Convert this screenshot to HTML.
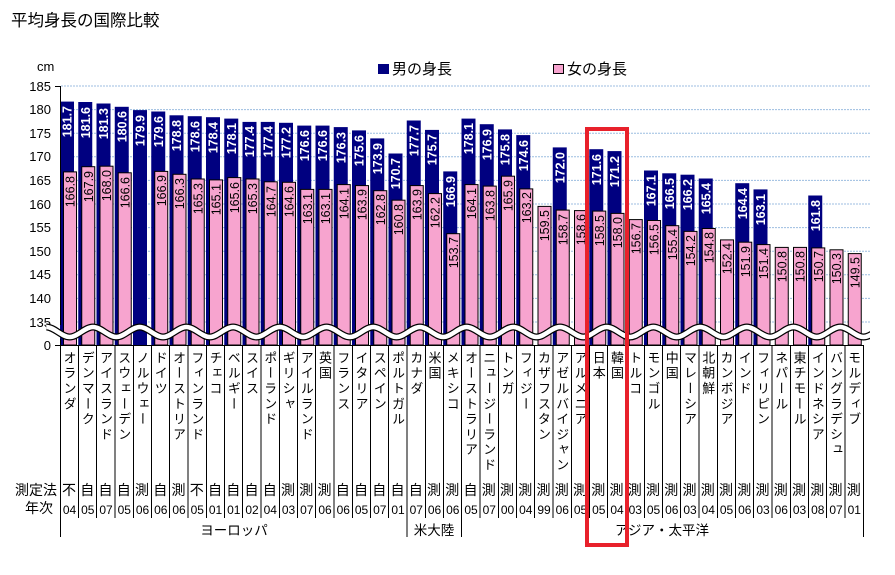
<!DOCTYPE html>
<html><head><meta charset="utf-8"><style>
html,body{margin:0;padding:0;background:#fff;}
svg{display:block;font-family:"Liberation Sans","Noto Sans CJK JP",sans-serif;}
.jp{font-family:"Liberation Sans","Noto Sans CJK JP",sans-serif;}
.v{writing-mode:vertical-rl;font-size:13px;letter-spacing:2.3px;}
.m{fill:#000080}
.f{fill:#f7a4cf;stroke:#000;stroke-width:1}
.ml{fill:#fff;font-size:12.5px;font-weight:bold;text-anchor:end}
.fl{fill:#000;font-size:12.5px;text-anchor:end}
.g{stroke:#9cbde0;stroke-width:1;stroke-dasharray:2,1}
.tk{font-size:13px;text-anchor:end}
.mt{font-size:14px;text-anchor:middle}
.yr{font-size:12px;text-anchor:middle}
</style></head><body>
<svg width="895" height="575" viewBox="0 0 895 575" xmlns="http://www.w3.org/2000/svg">
<text x="11" y="26" font-size="16.5" class="jp">平均身長の国際比較</text>
<text x="37" y="71" font-size="13">cm</text>
<rect x="378" y="64" width="11" height="10" fill="#000080"/>
<text x="392" y="74" font-size="15" class="jp">男の身長</text>
<rect x="553.5" y="64.5" width="10" height="9" fill="#f7a4cf" stroke="#000"/>
<text x="567" y="74" font-size="15" class="jp">女の身長</text>
<g>
<line class="g" x1="61" y1="86" x2="870" y2="86"/>
<line class="g" x1="61" y1="109.6" x2="870" y2="109.6"/>
<line class="g" x1="61" y1="133.2" x2="870" y2="133.2"/>
<line class="g" x1="61" y1="156.8" x2="870" y2="156.8"/>
<line class="g" x1="61" y1="180.4" x2="870" y2="180.4"/>
<line class="g" x1="61" y1="204" x2="870" y2="204"/>
<line class="g" x1="61" y1="227.6" x2="870" y2="227.6"/>
<line class="g" x1="61" y1="251.2" x2="870" y2="251.2"/>
<line class="g" x1="61" y1="274.8" x2="870" y2="274.8"/>
<line class="g" x1="61" y1="298.4" x2="870" y2="298.4"/>
<line class="g" x1="61" y1="322" x2="870" y2="322"/>
</g>
<g>
<text class="tk" x="51" y="91">185</text>
<text class="tk" x="51" y="114">180</text>
<text class="tk" x="51" y="138">175</text>
<text class="tk" x="51" y="161">170</text>
<text class="tk" x="51" y="185">165</text>
<text class="tk" x="51" y="209">160</text>
<text class="tk" x="51" y="232">155</text>
<text class="tk" x="51" y="256">150</text>
<text class="tk" x="51" y="279">145</text>
<text class="tk" x="51" y="303">140</text>
<text class="tk" x="51" y="327">135</text>
<text class="tk" x="51" y="350">0</text>
</g>
<!-- bars -->
<g>
<rect class="m" x="60" y="101.6" width="14" height="243.4"/><rect class="f" x="63.5" y="171.9" width="13" height="173.1"/>
<rect class="m" x="78.25" y="102" width="14" height="243"/><rect class="f" x="81.75" y="166.7" width="13" height="178.3"/>
<rect class="m" x="96.5" y="103.5" width="14" height="241.5"/><rect class="f" x="100" y="166.2" width="13" height="178.8"/>
<rect class="m" x="114.75" y="106.8" width="14" height="238.2"/><rect class="f" x="118.25" y="172.8" width="13" height="172.2"/>
<rect class="m" x="133" y="110.1" width="14" height="234.9"/>
<rect class="m" x="151.25" y="111.5" width="14" height="233.5"/><rect class="f" x="154.75" y="171.4" width="13" height="173.6"/>
<rect class="m" x="169.5" y="115.3" width="14" height="229.7"/><rect class="f" x="173" y="174.3" width="13" height="170.7"/>
<rect class="m" x="187.75" y="116.2" width="14" height="228.8"/><rect class="f" x="191.25" y="179" width="13" height="166"/>
<rect class="m" x="206" y="117.2" width="14" height="227.8"/><rect class="f" x="209.5" y="179.9" width="13" height="165.1"/>
<rect class="m" x="224.25" y="118.6" width="14" height="226.4"/><rect class="f" x="227.75" y="177.6" width="13" height="167.4"/>
<rect class="m" x="242.5" y="121.9" width="14" height="223.1"/><rect class="f" x="246" y="179" width="13" height="166"/>
<rect class="m" x="260.75" y="121.9" width="14" height="223.1"/><rect class="f" x="264.25" y="181.8" width="13" height="163.2"/>
<rect class="m" x="279" y="122.8" width="14" height="222.2"/><rect class="f" x="282.5" y="182.3" width="13" height="162.7"/>
<rect class="m" x="297.25" y="125.6" width="14" height="219.4"/><rect class="f" x="300.75" y="189.4" width="13" height="155.6"/>
<rect class="m" x="315.5" y="125.6" width="14" height="219.4"/><rect class="f" x="319" y="189.4" width="13" height="155.6"/>
<rect class="m" x="333.75" y="127.1" width="14" height="217.9"/><rect class="f" x="337.25" y="184.6" width="13" height="160.4"/>
<rect class="m" x="352" y="130.4" width="14" height="214.6"/><rect class="f" x="355.5" y="185.6" width="13" height="159.4"/>
<rect class="m" x="370.25" y="138.4" width="14" height="206.6"/><rect class="f" x="373.75" y="190.7" width="13" height="154.3"/>
<rect class="m" x="388.5" y="153.5" width="14" height="191.5"/><rect class="f" x="392" y="200.2" width="13" height="144.8"/>
<rect class="m" x="406.75" y="120.5" width="14" height="224.5"/><rect class="f" x="410.25" y="185.6" width="13" height="159.4"/>
<rect class="m" x="425" y="129.9" width="14" height="215.1"/><rect class="f" x="428.5" y="193.6" width="13" height="151.4"/>
<rect class="m" x="443.25" y="171.4" width="14" height="173.6"/><rect class="f" x="446.75" y="233.7" width="13" height="111.3"/>
<rect class="m" x="461.5" y="118.6" width="14" height="226.4"/><rect class="f" x="465" y="184.6" width="13" height="160.4"/>
<rect class="m" x="479.75" y="124.2" width="14" height="220.8"/><rect class="f" x="483.25" y="186.1" width="13" height="158.9"/>
<rect class="m" x="498" y="129.4" width="14" height="215.6"/><rect class="f" x="501.5" y="176.2" width="13" height="168.8"/>
<rect class="m" x="516.25" y="135.1" width="14" height="209.9"/><rect class="f" x="519.75" y="188.9" width="13" height="156.1"/>
<rect class="f" x="538" y="206.4" width="13" height="138.6"/>
<rect class="m" x="552.75" y="147.4" width="14" height="197.6"/><rect class="f" x="556.25" y="210.1" width="13" height="134.9"/>
<rect class="f" x="574.5" y="210.6" width="13" height="134.4"/>
<rect class="m" x="589.25" y="149.2" width="14" height="195.8"/><rect class="f" x="592.75" y="211.1" width="13" height="133.9"/>
<rect class="m" x="607.5" y="151.1" width="14" height="193.9"/><rect class="f" x="611" y="213.4" width="13" height="131.6"/>
<rect class="f" x="629.25" y="219.6" width="13" height="125.4"/>
<rect class="m" x="644" y="170.5" width="14" height="174.5"/><rect class="f" x="647.5" y="220.5" width="13" height="124.5"/>
<rect class="m" x="662.25" y="173.3" width="14" height="171.7"/><rect class="f" x="665.75" y="225.7" width="13" height="119.3"/>
<rect class="m" x="680.5" y="174.7" width="14" height="170.3"/><rect class="f" x="684" y="231.4" width="13" height="113.6"/>
<rect class="m" x="698.75" y="178.5" width="14" height="166.5"/><rect class="f" x="702.25" y="228.5" width="13" height="116.5"/>
<rect class="f" x="720.5" y="239.9" width="13" height="105.1"/>
<rect class="m" x="735.25" y="183.2" width="14" height="161.8"/><rect class="f" x="738.75" y="242.2" width="13" height="102.8"/>
<rect class="m" x="753.5" y="189.4" width="14" height="155.6"/><rect class="f" x="757" y="244.6" width="13" height="100.4"/>
<rect class="f" x="775.25" y="247.4" width="13" height="97.6"/>
<rect class="f" x="793.5" y="247.4" width="13" height="97.6"/>
<rect class="m" x="808.25" y="195.5" width="14" height="149.5"/><rect class="f" x="811.75" y="247.9" width="13" height="97.1"/>
<rect class="f" x="830" y="249.8" width="13" height="95.2"/>
<rect class="f" x="848.25" y="253.6" width="13" height="91.4"/>
</g>
<!-- male labels -->
<g>
<text class="ml" transform="translate(71.5,106) rotate(-90)">181.7</text>
<text class="ml" transform="translate(89.75,107) rotate(-90)">181.6</text>
<text class="ml" transform="translate(108,108) rotate(-90)">181.3</text>
<text class="ml" transform="translate(126.25,111) rotate(-90)">180.6</text>
<text class="ml" transform="translate(144.5,115) rotate(-90)">179.9</text>
<text class="ml" transform="translate(162.75,116) rotate(-90)">179.6</text>
<text class="ml" transform="translate(181,120) rotate(-90)">178.8</text>
<text class="ml" transform="translate(199.25,121) rotate(-90)">178.6</text>
<text class="ml" transform="translate(217.5,122) rotate(-90)">178.4</text>
<text class="ml" transform="translate(235.75,123) rotate(-90)">178.1</text>
<text class="ml" transform="translate(254,126) rotate(-90)">177.4</text>
<text class="ml" transform="translate(272.25,126) rotate(-90)">177.4</text>
<text class="ml" transform="translate(290.5,127) rotate(-90)">177.2</text>
<text class="ml" transform="translate(308.75,130) rotate(-90)">176.6</text>
<text class="ml" transform="translate(327,130) rotate(-90)">176.6</text>
<text class="ml" transform="translate(345.25,132) rotate(-90)">176.3</text>
<text class="ml" transform="translate(363.5,135) rotate(-90)">175.6</text>
<text class="ml" transform="translate(381.75,143) rotate(-90)">173.9</text>
<text class="ml" transform="translate(400,158) rotate(-90)">170.7</text>
<text class="ml" transform="translate(418.25,125) rotate(-90)">177.7</text>
<text class="ml" transform="translate(436.5,134) rotate(-90)">175.7</text>
<text class="ml" transform="translate(454.75,176) rotate(-90)">166.9</text>
<text class="ml" transform="translate(473,123) rotate(-90)">178.1</text>
<text class="ml" transform="translate(491.25,129) rotate(-90)">176.9</text>
<text class="ml" transform="translate(509.5,134) rotate(-90)">175.8</text>
<text class="ml" transform="translate(527.75,140) rotate(-90)">174.6</text>
<text class="ml" transform="translate(564.25,152) rotate(-90)">172.0</text>
<text class="ml" transform="translate(600.75,154) rotate(-90)">171.6</text>
<text class="ml" transform="translate(619,156) rotate(-90)">171.2</text>
<text class="ml" transform="translate(655.5,175) rotate(-90)">167.1</text>
<text class="ml" transform="translate(673.75,178) rotate(-90)">166.5</text>
<text class="ml" transform="translate(692,179) rotate(-90)">166.2</text>
<text class="ml" transform="translate(710.25,183) rotate(-90)">165.4</text>
<text class="ml" transform="translate(746.75,188) rotate(-90)">164.4</text>
<text class="ml" transform="translate(765,194) rotate(-90)">163.1</text>
<text class="ml" transform="translate(819.75,200) rotate(-90)">161.8</text>
</g>
<!-- female labels -->
<g>
<text class="fl" transform="translate(74.5,176) rotate(-90)">166.8</text>
<text class="fl" transform="translate(92.75,171) rotate(-90)">167.9</text>
<text class="fl" transform="translate(111,170) rotate(-90)">168.0</text>
<text class="fl" transform="translate(129.25,177) rotate(-90)">166.6</text>
<text class="fl" transform="translate(165.75,175) rotate(-90)">166.9</text>
<text class="fl" transform="translate(184,178) rotate(-90)">166.3</text>
<text class="fl" transform="translate(202.25,183) rotate(-90)">165.3</text>
<text class="fl" transform="translate(220.5,184) rotate(-90)">165.1</text>
<text class="fl" transform="translate(238.75,182) rotate(-90)">165.6</text>
<text class="fl" transform="translate(257,183) rotate(-90)">165.3</text>
<text class="fl" transform="translate(275.25,186) rotate(-90)">164.7</text>
<text class="fl" transform="translate(293.5,186) rotate(-90)">164.6</text>
<text class="fl" transform="translate(311.75,193) rotate(-90)">163.1</text>
<text class="fl" transform="translate(330,193) rotate(-90)">163.1</text>
<text class="fl" transform="translate(348.25,188) rotate(-90)">164.1</text>
<text class="fl" transform="translate(366.5,189) rotate(-90)">163.9</text>
<text class="fl" transform="translate(384.75,194) rotate(-90)">162.8</text>
<text class="fl" transform="translate(403,204) rotate(-90)">160.8</text>
<text class="fl" transform="translate(421.25,189) rotate(-90)">163.9</text>
<text class="fl" transform="translate(439.5,197) rotate(-90)">162.2</text>
<text class="fl" transform="translate(457.75,237) rotate(-90)">153.7</text>
<text class="fl" transform="translate(476,188) rotate(-90)">164.1</text>
<text class="fl" transform="translate(494.25,190) rotate(-90)">163.8</text>
<text class="fl" transform="translate(512.5,180) rotate(-90)">165.9</text>
<text class="fl" transform="translate(530.75,192) rotate(-90)">163.2</text>
<text class="fl" transform="translate(549,210) rotate(-90)">159.5</text>
<text class="fl" transform="translate(567.25,214) rotate(-90)">158.7</text>
<text class="fl" transform="translate(585.5,214) rotate(-90)">158.6</text>
<text class="fl" transform="translate(603.75,215) rotate(-90)">158.5</text>
<text class="fl" transform="translate(622,217) rotate(-90)">158.0</text>
<text class="fl" transform="translate(640.25,223) rotate(-90)">156.7</text>
<text class="fl" transform="translate(658.5,224) rotate(-90)">156.5</text>
<text class="fl" transform="translate(676.75,229) rotate(-90)">155.4</text>
<text class="fl" transform="translate(695,235) rotate(-90)">154.2</text>
<text class="fl" transform="translate(713.25,232) rotate(-90)">154.8</text>
<text class="fl" transform="translate(731.5,243) rotate(-90)">152.4</text>
<text class="fl" transform="translate(749.75,246) rotate(-90)">151.9</text>
<text class="fl" transform="translate(768,248) rotate(-90)">151.4</text>
<text class="fl" transform="translate(786.25,251) rotate(-90)">150.8</text>
<text class="fl" transform="translate(804.5,251) rotate(-90)">150.8</text>
<text class="fl" transform="translate(822.75,251) rotate(-90)">150.7</text>
<text class="fl" transform="translate(841,253) rotate(-90)">150.3</text>
<text class="fl" transform="translate(859.25,257) rotate(-90)">149.5</text>
</g>
<!-- wavy break -->
<path id="wv" d="M46.3 327 c8 0 15.35 10 23.35 10 c8 0 15.35 -10 23.35 -10 c8 0 15.35 10 23.35 10 c8 0 15.35 -10 23.35 -10 c8 0 15.35 10 23.35 10 c8 0 15.35 -10 23.35 -10 c8 0 15.35 10 23.35 10 c8 0 15.35 -10 23.35 -10 c8 0 15.35 10 23.35 10 c8 0 15.35 -10 23.35 -10 c8 0 15.35 10 23.35 10 c8 0 15.35 -10 23.35 -10 c8 0 15.35 10 23.35 10 c8 0 15.35 -10 23.35 -10 c8 0 15.35 10 23.35 10 c8 0 15.35 -10 23.35 -10 c8 0 15.35 10 23.35 10 c8 0 15.35 -10 23.35 -10 c8 0 15.35 10 23.35 10 c8 0 15.35 -10 23.35 -10 c8 0 15.35 10 23.35 10 c8 0 15.35 -10 23.35 -10 c8 0 15.35 10 23.35 10 c8 0 15.35 -10 23.35 -10 c8 0 15.35 10 23.35 10 c8 0 15.35 -10 23.35 -10 c8 0 15.35 10 23.35 10 c8 0 15.35 -10 23.35 -10 c8 0 15.35 10 23.35 10 c8 0 15.35 -10 23.35 -10 c8 0 15.35 10 23.35 10 c8 0 15.35 -10 23.35 -10 c8 0 15.35 10 23.35 10 c8 0 15.35 -10 23.35 -10 c8 0 15.35 10 23.35 10 c8 0 15.35 -10 23.35 -10" fill="none" stroke="#000" stroke-width="7"/>
<path d="M46.3 327 c8 0 15.35 10 23.35 10 c8 0 15.35 -10 23.35 -10 c8 0 15.35 10 23.35 10 c8 0 15.35 -10 23.35 -10 c8 0 15.35 10 23.35 10 c8 0 15.35 -10 23.35 -10 c8 0 15.35 10 23.35 10 c8 0 15.35 -10 23.35 -10 c8 0 15.35 10 23.35 10 c8 0 15.35 -10 23.35 -10 c8 0 15.35 10 23.35 10 c8 0 15.35 -10 23.35 -10 c8 0 15.35 10 23.35 10 c8 0 15.35 -10 23.35 -10 c8 0 15.35 10 23.35 10 c8 0 15.35 -10 23.35 -10 c8 0 15.35 10 23.35 10 c8 0 15.35 -10 23.35 -10 c8 0 15.35 10 23.35 10 c8 0 15.35 -10 23.35 -10 c8 0 15.35 10 23.35 10 c8 0 15.35 -10 23.35 -10 c8 0 15.35 10 23.35 10 c8 0 15.35 -10 23.35 -10 c8 0 15.35 10 23.35 10 c8 0 15.35 -10 23.35 -10 c8 0 15.35 10 23.35 10 c8 0 15.35 -10 23.35 -10 c8 0 15.35 10 23.35 10 c8 0 15.35 -10 23.35 -10 c8 0 15.35 10 23.35 10 c8 0 15.35 -10 23.35 -10 c8 0 15.35 10 23.35 10 c8 0 15.35 -10 23.35 -10 c8 0 15.35 10 23.35 10 c8 0 15.35 -10 23.35 -10" fill="none" stroke="#fff" stroke-width="4.5"/>
<rect x="870" y="315" width="25" height="30" fill="#fff"/>
<!-- axes -->
<line x1="60.5" y1="86" x2="60.5" y2="325" stroke="#000"/>
<line x1="60.5" y1="339" x2="60.5" y2="345" stroke="#000"/>
<line x1="55" y1="86.5" x2="60.5" y2="86.5" stroke="#000"/>
<line x1="55" y1="345.5" x2="864" y2="345.5" stroke="#000"/>
<!-- separators -->
<g stroke="#000" stroke-width="1">
<line x1="60.5" y1="345" x2="60.5" y2="537"/>
<line x1="78.5" y1="345" x2="78.5" y2="518"/><line x1="96.5" y1="345" x2="96.5" y2="518"/><line x1="115" y1="345" x2="115" y2="518"/><line x1="133.5" y1="345" x2="133.5" y2="518"/><line x1="151.5" y1="345" x2="151.5" y2="518"/><line x1="169.5" y1="345" x2="169.5" y2="518"/><line x1="188" y1="345" x2="188" y2="518"/><line x1="206.5" y1="345" x2="206.5" y2="518"/><line x1="224.5" y1="345" x2="224.5" y2="518"/><line x1="242.5" y1="345" x2="242.5" y2="518"/><line x1="261" y1="345" x2="261" y2="518"/><line x1="279.5" y1="345" x2="279.5" y2="518"/><line x1="297.5" y1="345" x2="297.5" y2="518"/><line x1="315.5" y1="345" x2="315.5" y2="518"/><line x1="334" y1="345" x2="334" y2="518"/><line x1="352.5" y1="345" x2="352.5" y2="518"/><line x1="370.5" y1="345" x2="370.5" y2="518"/><line x1="388.5" y1="345" x2="388.5" y2="518"/>
<line x1="407" y1="345" x2="407" y2="537"/>
<line x1="425.5" y1="345" x2="425.5" y2="518"/><line x1="443.5" y1="345" x2="443.5" y2="518"/>
<line x1="461.5" y1="345" x2="461.5" y2="537"/>
<line x1="480" y1="345" x2="480" y2="518"/><line x1="498.5" y1="345" x2="498.5" y2="518"/><line x1="516.5" y1="345" x2="516.5" y2="518"/><line x1="534.5" y1="345" x2="534.5" y2="518"/><line x1="553" y1="345" x2="553" y2="518"/><line x1="571.5" y1="345" x2="571.5" y2="518"/><line x1="589.5" y1="345" x2="589.5" y2="518"/><line x1="607.5" y1="345" x2="607.5" y2="518"/><line x1="626" y1="345" x2="626" y2="518"/><line x1="644.5" y1="345" x2="644.5" y2="518"/><line x1="662.5" y1="345" x2="662.5" y2="518"/><line x1="680.5" y1="345" x2="680.5" y2="518"/><line x1="699" y1="345" x2="699" y2="518"/><line x1="717.5" y1="345" x2="717.5" y2="518"/><line x1="735.5" y1="345" x2="735.5" y2="518"/><line x1="753.5" y1="345" x2="753.5" y2="518"/><line x1="772" y1="345" x2="772" y2="518"/><line x1="790.5" y1="345" x2="790.5" y2="518"/><line x1="808.5" y1="345" x2="808.5" y2="518"/><line x1="826.5" y1="345" x2="826.5" y2="518"/><line x1="845" y1="345" x2="845" y2="518"/>
<line x1="863.5" y1="345" x2="863.5" y2="537"/>
</g>
<!-- category labels -->
<g class="v">
<text x="69" y="351">オランダ</text>
<text x="87.3" y="351">デンマーク</text>
<text x="105.5" y="351">アイスランド</text>
<text x="123.8" y="351">スウェーデン</text>
<text x="142" y="351">ノルウェー</text>
<text x="160.3" y="351">ドイツ</text>
<text x="178.5" y="351">オーストリア</text>
<text x="196.8" y="351">フィンランド</text>
<text x="215" y="351">チェコ</text>
<text x="233.3" y="351">ベルギー</text>
<text x="251.5" y="351">スイス</text>
<text x="269.8" y="351">ポーランド</text>
<text x="288" y="351">ギリシャ</text>
<text x="306.3" y="351">アイルランド</text>
<text x="324.5" y="351">英国</text>
<text x="342.8" y="351">フランス</text>
<text x="361" y="351">イタリア</text>
<text x="379.3" y="351">スペイン</text>
<text x="397.5" y="351">ポルトガル</text>
<text x="415.8" y="351">カナダ</text>
<text x="434" y="351">米国</text>
<text x="452.3" y="351">メキシコ</text>
<text x="470.5" y="351">オーストラリア</text>
<text x="488.8" y="351">ニュージーランド</text>
<text x="507" y="351">トンガ</text>
<text x="525.3" y="351">フィジー</text>
<text x="543.5" y="351">カザフスタン</text>
<text x="561.8" y="351">アゼルバイジャン</text>
<text x="580" y="351">アルメニア</text>
<text x="598.3" y="351">日本</text>
<text x="616.5" y="351">韓国</text>
<text x="634.8" y="351">トルコ</text>
<text x="653" y="351">モンゴル</text>
<text x="671.3" y="351">中国</text>
<text x="689.5" y="351">マレーシア</text>
<text x="707.8" y="351">北朝鮮</text>
<text x="726" y="351">カンボジア</text>
<text x="744.3" y="351">インド</text>
<text x="762.5" y="351">フィリピン</text>
<text x="780.8" y="351">ネパール</text>
<text x="799" y="351">東チモール</text>
<text x="817.3" y="351">インドネシア</text>
<text x="835.5" y="351">バングラデシュ</text>
<text x="853.8" y="351">モルディブ</text>
</g>
<text x="15" y="495" font-size="14">測定法</text>
<text x="25" y="513" font-size="14">年次</text>
<g class="mt">
<text x="69" y="495">不</text><text x="87.3" y="495">自</text><text x="105.5" y="495">自</text><text x="123.8" y="495">自</text><text x="142" y="495">測</text><text x="160.3" y="495">自</text><text x="178.5" y="495">測</text><text x="196.8" y="495">不</text><text x="215" y="495">自</text><text x="233.3" y="495">自</text><text x="251.5" y="495">自</text><text x="269.8" y="495">自</text><text x="288" y="495">測</text><text x="306.3" y="495">測</text><text x="324.5" y="495">測</text><text x="342.8" y="495">自</text><text x="361" y="495">自</text><text x="379.3" y="495">自</text><text x="397.5" y="495">自</text>
<text x="415.8" y="495">自</text><text x="434" y="495">測</text><text x="452.3" y="495">測</text>
<text x="470.5" y="495">自</text><text x="488.8" y="495">測</text><text x="507" y="495">測</text><text x="525.3" y="495">測</text><text x="543.5" y="495">測</text><text x="561.8" y="495">測</text><text x="580" y="495">測</text><text x="598.3" y="495">測</text><text x="616.5" y="495">測</text><text x="634.8" y="495">測</text><text x="653" y="495">測</text><text x="671.3" y="495">測</text><text x="689.5" y="495">測</text><text x="707.8" y="495">測</text><text x="726" y="495">測</text><text x="744.3" y="495">測</text><text x="762.5" y="495">測</text><text x="780.8" y="495">測</text><text x="799" y="495">測</text><text x="817.3" y="495">測</text><text x="835.5" y="495">測</text><text x="853.8" y="495">測</text>
</g>
<g class="yr">
<text x="69.5" y="514">04</text><text x="87.8" y="514">05</text><text x="106" y="514">07</text><text x="124.3" y="514">05</text><text x="142.5" y="514">06</text><text x="160.8" y="514">06</text><text x="179" y="514">06</text><text x="197.3" y="514">05</text><text x="215.5" y="514">01</text><text x="233.8" y="514">01</text><text x="252" y="514">02</text><text x="270.3" y="514">04</text><text x="288.5" y="514">03</text><text x="306.8" y="514">07</text><text x="325" y="514">06</text><text x="343.3" y="514">06</text><text x="361.5" y="514">05</text><text x="379.8" y="514">07</text><text x="398" y="514">01</text>
<text x="416.3" y="514">07</text><text x="434.5" y="514">06</text><text x="452.8" y="514">06</text>
<text x="471" y="514">05</text><text x="489.3" y="514">07</text><text x="507.5" y="514">00</text><text x="525.8" y="514">04</text><text x="544" y="514">99</text><text x="562.3" y="514">06</text><text x="580.5" y="514">05</text><text x="598.8" y="514">05</text><text x="617" y="514">04</text><text x="635.3" y="514">03</text><text x="653.5" y="514">05</text><text x="671.8" y="514">06</text><text x="690" y="514">03</text><text x="708.3" y="514">04</text><text x="726.5" y="514">05</text><text x="744.8" y="514">06</text><text x="763" y="514">03</text><text x="781.3" y="514">06</text><text x="799.5" y="514">03</text><text x="817.8" y="514">08</text><text x="836" y="514">07</text><text x="854.3" y="514">01</text>
</g>
<g font-size="13.5" text-anchor="middle">
<text x="234" y="535">ヨーロッパ</text>
<text x="434" y="535">米大陸</text>
<text x="662" y="535">アジア・太平洋</text>
</g>
<rect x="587" y="129" width="40" height="416" fill="none" stroke="#e8212b" stroke-width="4"/>
</svg>
</body></html>
